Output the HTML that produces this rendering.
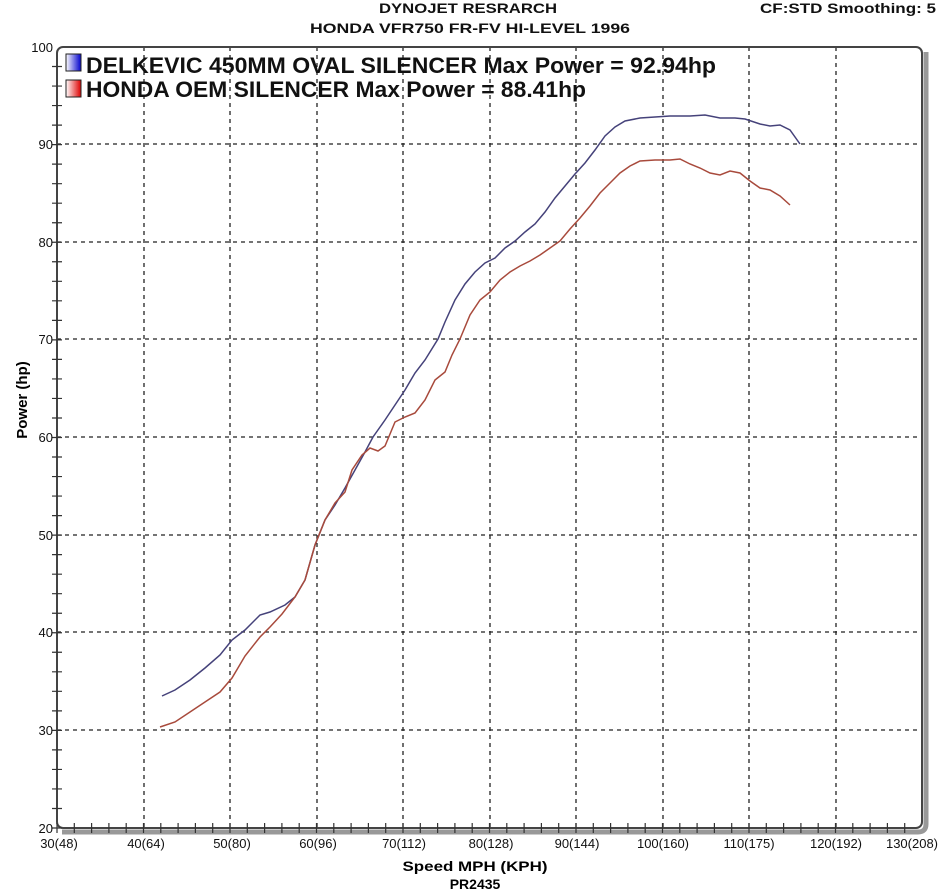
<!DOCTYPE html>
<html><head><meta charset="utf-8"><style>
body{margin:0;background:#fff;}
svg{display:block;font-family:"Liberation Sans",sans-serif;}
</style></head><body>
<svg width="950" height="891" viewBox="0 0 950 891">
<text x="468" y="13" text-anchor="middle" font-size="14" font-weight="bold" fill="#111" textLength="178" lengthAdjust="spacingAndGlyphs">DYNOJET RESRARCH</text>
<text x="470" y="33" text-anchor="middle" font-size="14" font-weight="bold" fill="#111" textLength="320" lengthAdjust="spacingAndGlyphs">HONDA VFR750 FR-FV HI-LEVEL 1996</text>
<text x="760" y="13" font-size="14" font-weight="bold" fill="#111" textLength="176" lengthAdjust="spacingAndGlyphs">CF:STD Smoothing: 5</text>
<path d="M62 832 H918 Q926 832 926 824 V52" fill="none" stroke="#999" stroke-width="5"/>
<g stroke="#222" stroke-width="1.3" stroke-dasharray="4,4">
<line x1="144" y1="47" x2="144" y2="828"/><line x1="230" y1="47" x2="230" y2="828"/><line x1="317" y1="47" x2="317" y2="828"/><line x1="403" y1="47" x2="403" y2="828"/><line x1="490" y1="47" x2="490" y2="828"/><line x1="576" y1="47" x2="576" y2="828"/><line x1="663" y1="47" x2="663" y2="828"/><line x1="749" y1="47" x2="749" y2="828"/><line x1="836" y1="47" x2="836" y2="828"/>
<line x1="57" y1="144" x2="922" y2="144"/><line x1="57" y1="242" x2="922" y2="242"/><line x1="57" y1="339" x2="922" y2="339"/><line x1="57" y1="437" x2="922" y2="437"/><line x1="57" y1="535" x2="922" y2="535"/><line x1="57" y1="632" x2="922" y2="632"/><line x1="57" y1="730" x2="922" y2="730"/>
</g>
<rect x="57" y="47" width="865" height="781" rx="6" fill="none" stroke="#444" stroke-width="2"/>
<path stroke="#333" stroke-width="1.2" fill="none" d="M57 823v10m17.3-10v10m17.3-10v10m17.3-10v10m17.3-10v10m17.3-10v10m17.3-10v10m17.3-10v10m17.3-10v10m17.3-10v10m17.3-10v10m17.3-10v10m17.3-10v10m17.3-10v10m17.3-10v10m17.3-10v10m17.3-10v10m17.3-10v10m17.3-10v10m17.3-10v10m17.3-10v10m17.3-10v10m17.3-10v10m17.3-10v10m17.3-10v10m17.3-10v10m17.3-10v10m17.3-10v10m17.3-10v10m17.3-10v10m17.3-10v10m17.3-10v10m17.3-10v10m17.3-10v10m17.3-10v10m17.3-10v10m17.3-10v10m17.3-10v10m17.3-10v10m17.3-10v10m17.3-10v10m17.3-10v10m17.3-10v10m17.3-10v10m17.3-10v10m17.3-10v10m17.3-10v10m17.3-10v10m17.3-10v10m17.3-10v10"/>
<path stroke="#333" stroke-width="1.2" fill="none" d="M52 828h10m-10-19.525h10m-10-19.525h10m-10-19.525h10m-10-19.525h10m-10-19.525h10m-10-19.525h10m-10-19.525h10m-10-19.525h10m-10-19.525h10m-10-19.525h10m-10-19.525h10m-10-19.525h10m-10-19.525h10m-10-19.525h10m-10-19.525h10m-10-19.525h10m-10-19.525h10m-10-19.525h10m-10-19.525h10m-10-19.525h10m-10-19.525h10m-10-19.525h10m-10-19.525h10m-10-19.525h10m-10-19.525h10m-10-19.525h10m-10-19.525h10m-10-19.525h10m-10-19.525h10m-10-19.525h10m-10-19.525h10m-10-19.525h10m-10-19.525h10m-10-19.525h10m-10-19.525h10m-10-19.525h10m-10-19.525h10m-10-19.525h10m-10-19.525h10"/>
<g font-size="13" fill="#111" text-anchor="end">
<text x="53" y="52">100</text><text x="53" y="149">90</text><text x="53" y="247">80</text><text x="53" y="344">70</text><text x="53" y="442">60</text><text x="53" y="540">50</text><text x="53" y="637">40</text><text x="53" y="735">30</text><text x="53" y="833">20</text>
</g>
<g font-size="13" fill="#111" text-anchor="middle">
<text x="59" y="848">30(48)</text><text x="146" y="848">40(64)</text><text x="232" y="848">50(80)</text><text x="318" y="848">60(96)</text><text x="404" y="848">70(112)</text><text x="491" y="848">80(128)</text><text x="577" y="848">90(144)</text><text x="663" y="848">100(160)</text><text x="749" y="848">110(175)</text><text x="836" y="848">120(192)</text><text x="912" y="848">130(208)</text>
</g>
<text x="475" y="871" text-anchor="middle" font-size="14" font-weight="bold" textLength="145" lengthAdjust="spacingAndGlyphs">Speed MPH (KPH)</text>
<text x="475" y="889" text-anchor="middle" font-size="14" font-weight="bold">PR2435</text>
<text transform="translate(27,400) rotate(-90)" text-anchor="middle" font-size="15" font-weight="bold">Power (hp)</text>
<defs><linearGradient id="gb" x1="0" x2="1"><stop offset="0" stop-color="#fff"/><stop offset="1" stop-color="#00c"/></linearGradient><linearGradient id="gr" x1="0" x2="1"><stop offset="0" stop-color="#fff"/><stop offset="1" stop-color="#d00"/></linearGradient></defs>
<rect x="66" y="54" width="15" height="17" fill="url(#gb)" stroke="#222"/>
<rect x="66" y="80" width="15" height="17" fill="url(#gr)" stroke="#222"/>
<text x="86" y="73" font-size="22" font-weight="bold" fill="#111" textLength="630" lengthAdjust="spacingAndGlyphs">DELKEVIC 450MM OVAL SILENCER Max Power = 92.94hp</text>
<text x="86" y="97" font-size="22" font-weight="bold" fill="#111" textLength="500" lengthAdjust="spacingAndGlyphs">HONDA OEM SILENCER Max Power = 88.41hp</text>
<polyline fill="none" stroke="#45427a" stroke-width="1.5" points="162,696 175,690 190,680 205,668 220,655 232,640 245,630 260,615 270,612 285,605 295,597 305,580 315,545 325,520 335,505 345,488 355,470 365,452 373,437 385,420 395,405 405,390 415,373 425,360 438,339 445,322 455,300 465,284 475,272 485,263 495,258 505,248 515,241 525,232 535,224 545,212 555,198 565,186 575,174 585,163 595,150 605,136 615,127 625,121 640,118 655,117 670,116 690,116 705,115 720,118 735,118 745,119 760,124 770,126 780,125 790,130 800,144"/>
<polyline fill="none" stroke="#a84a3c" stroke-width="1.5" points="160,727 175,722 190,712 205,702 220,692 232,678 245,656 260,637 270,627 282,614 295,597 305,580 315,545 325,520 335,503 345,492 352,470 362,455 370,448 378,451 385,446 395,422 405,417 415,413 425,400 435,380 445,372 452,355 460,339 470,315 480,300 490,292 500,280 510,272 520,266 530,261 540,255 550,248 560,241 570,229 580,218 590,206 600,193 610,183 620,173 630,166 640,161 655,160 670,160 680,159 690,164 700,168 710,173 720,175 730,171 740,173 750,181 760,188 770,190 780,196 790,205"/>
</svg>
</body></html>
